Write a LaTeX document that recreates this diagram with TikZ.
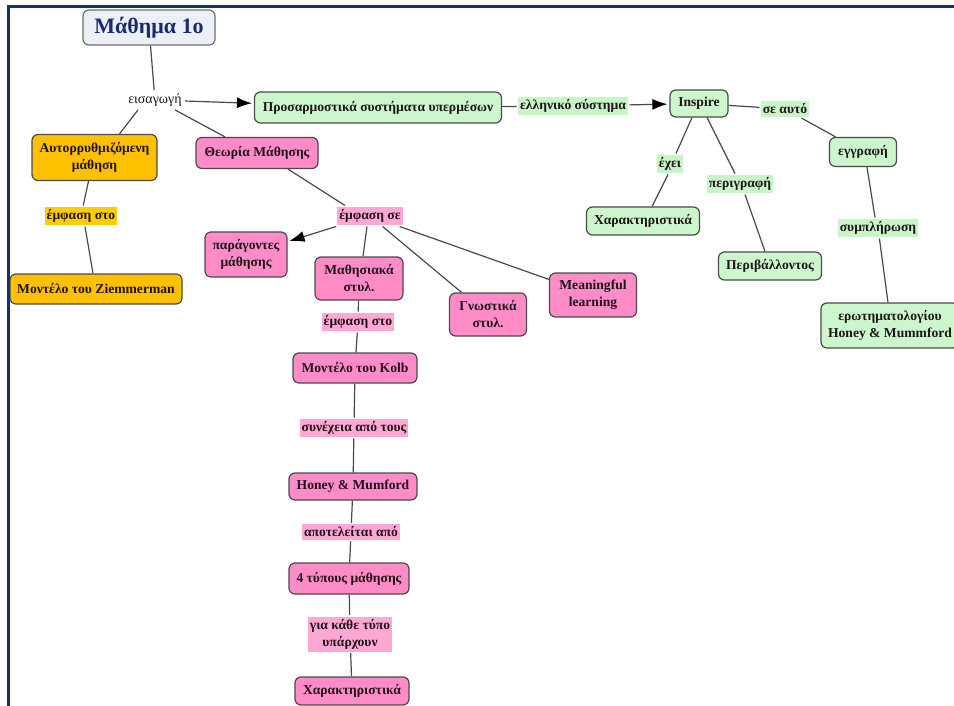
\documentclass[tikz,border=0pt]{standalone}
\usepackage{fontspec}
\setmainfont{Liberation Serif}
\usetikzlibrary{arrows.meta}

\definecolor{frameblue}{HTML}{14306E}
\definecolor{titletext}{HTML}{1B2A70}
\definecolor{titlefill}{HTML}{EAF0F6}
\definecolor{boxline}{HTML}{4A4A4A}
\definecolor{linkgrey}{HTML}{4A4A4A}
\definecolor{txt}{HTML}{1E1418}
\definecolor{pinkfill}{HTML}{FF8CC6}
\definecolor{pinklabel}{HTML}{FFA8D4}
\definecolor{greenfill}{HTML}{CCF7CC}
\definecolor{greenlabel}{HTML}{C8F4C8}
\definecolor{orangefill}{HTML}{FFC000}
\definecolor{yellowlabel}{HTML}{FFCC00}

\begin{document}
\begin{tikzpicture}[x=1pt, y=-1pt,
  every node/.style={font=\fontsize{13.6}{17}\selectfont\bfseries, text=txt, align=center},
  box/.style={draw=boxline, line width=1.2pt, rounded corners=6pt, inner sep=0pt},
  dims/.style 2 args={minimum width=#1, minimum height=#2},
  pinkbox/.style={box, fill=pinkfill},
  greenbox/.style={box, fill=greenfill},
  orangebox/.style={box, fill=orangefill},
  titlebox/.style={box, fill=titlefill, draw=boxline!80, font=\fontsize{22}{26}\selectfont\bfseries, text=titletext},
  lbl/.style={inner xsep=2pt, inner ysep=2.5pt, outer sep=1.5pt},
  pinklbl/.style={lbl, fill=pinklabel},
  greenlbl/.style={lbl, fill=greenlabel},
  yellowlbl/.style={lbl, fill=yellowlabel},
  plainlbl/.style={font=\fontsize{14}{17}\selectfont, inner sep=1.5pt, outer sep=2pt},
  link/.style={draw=linkgrey, line width=1.2pt},
  arrowlink/.style={link, -{Latex[length=15pt,width=11pt,color=black]}, shorten >=2pt},
]
\useasboundingbox (0,0) rectangle (954,706);
\fill[white] (0,0) rectangle (954,706);
\draw[frameblue, line width=3pt] (8.5,706) -- (8.5,6.5) -- (954,6.5);

\begin{scope}
\clip (10,8) rectangle (954,706);

% concept boxes
\node[titlebox, dims={132pt}{35pt}] (title) at (149,27.5) {Μάθημα 1ο};
\node[plainlbl] (intro) at (155,100) {εισαγωγή};

\node[orangebox, dims={125pt}{46pt}] (self) at (94.5,157.5) {Αυτορρυθμιζόμενη\\μάθηση};
\node[yellowlbl] (emphA) at (81,216) {έμφαση στο};
\node[orangebox, dims={172pt}{30pt}] (ziem) at (96,289) {Μοντέλο του Ziemmerman};

\node[pinkbox, dims={122pt}{31pt}] (theory) at (257,153) {Θεωρία Μάθησης};
\node[pinklbl] (emphse) at (370,216) {έμφαση σε};
\node[pinkbox, dims={82pt}{45pt}] (factors) at (246,254.5) {παράγοντες\\μάθησης};
\node[pinkbox, dims={88pt}{43pt}] (styles) at (359,278.5) {Μαθησιακά\\στυλ.};
\node[pinkbox, dims={77pt}{43pt}] (cogn) at (488,314.5) {Γνωστικά\\στυλ.};
\node[pinkbox, dims={87pt}{44pt}] (meaning) at (593,295) {Meaningful\\learning};

\node[pinklbl] (emphsto) at (358,322) {έμφαση στο};
\node[pinkbox, dims={124pt}{30pt}] (kolb) at (355,368) {Μοντέλο του Kolb};
\node[pinklbl] (cont) at (354,428) {συνέχεια από τους};
\node[pinkbox, dims={128pt}{27pt}] (honey) at (353,486.5) {Honey \& Mumford};
\node[pinklbl] (consist) at (351,532) {αποτελείται από};
\node[pinkbox, dims={120pt}{31pt}] (four) at (349,578.5) {4 τύπους μάθησης};
\node[pinklbl] (each) at (350,634) {για κάθε τύπο\\υπάρχουν};
\node[pinkbox, dims={114pt}{28pt}] (charP) at (352,691) {Χαρακτηριστικά};

\node[greenbox, dims={247pt}{31pt}] (adapt) at (378,107.5) {Προσαρμοστικά συστήματα υπερμέσων};
\node[greenlbl] (greek) at (573,106) {ελληνικό σύστημα};
\node[greenbox, dims={58pt}{27pt}] (inspire) at (699,103.5) {Inspire};
\node[greenlbl] (seauto) at (785,109) {σε αυτό};
\node[greenbox, dims={67pt}{29pt}] (egg) at (863,152) {εγγραφή};
\node[greenlbl] (symp) at (878,228) {συμπλήρωση};
\node[greenbox, dims={138pt}{45pt}] (quest) at (890,325.5) {ερωτηματολογίου\\Honey \& Mummford};
\node[greenlbl] (exei) at (670,164) {έχει};
\node[greenbox, dims={113pt}{28pt}] (charG) at (643,221) {Χαρακτηριστικά};
\node[greenlbl] (perig) at (740,184) {περιγραφή};
\node[greenbox, dims={103pt}{28pt}] (envir) at (770,266) {Περιβάλλοντος};

% connectors
\draw[link] (title) -- (intro);
\draw[arrowlink] (intro) -- (adapt);
\draw[link] ([xshift=-17pt]intro.south) -- ([xshift=25pt]self.north);
\draw[link] ([xshift=20pt]intro.south) -- ([xshift=-32pt]theory.north);
\draw[link] ([xshift=-6pt]self.south) -- (emphA);
\draw[link] ([xshift=4pt]emphA.south) -- ([xshift=-3pt]ziem.north);

\draw[link] ([xshift=31pt]theory.south) -- ([xshift=-25pt]emphse.north);
\draw[arrowlink] (emphse) -- (factors);
\draw[link] ([xshift=-3pt]emphse.south) -- ([xshift=4pt]styles.north);
\draw[link] (emphse) -- (cogn);
\draw[link] (emphse) -- (meaning);
\draw[link] (styles) -- (emphsto);
\draw[link] (emphsto) -- (kolb);
\draw[link] (kolb) -- (cont);
\draw[link] (cont) -- (honey);
\draw[link] (honey) -- (consist);
\draw[link] (consist) -- (four);
\draw[link] (four) -- (each);
\draw[link] (each) -- (charP);

\draw[link] (adapt) -- (greek);
\draw[arrowlink] (greek) -- (inspire);
\draw[link] (inspire) -- (seauto);
\draw[link] (seauto) -- (egg);
\draw[link] ([xshift=4pt]egg.south) -- ([xshift=-3pt]symp.north);
\draw[link] (symp) -- ([xshift=-2pt]quest.north);
\draw[link] ([xshift=-7pt]inspire.south) -- ([xshift=6pt]exei.north);
\draw[link] ([xshift=-2pt]exei.south) -- ([xshift=9pt]charG.north);
\draw[link] ([xshift=8pt]inspire.south) -- ([xshift=-5pt]perig.north);
\draw[link] ([xshift=5pt]perig.south) -- ([xshift=-5pt]envir.north);
\end{scope}
\end{tikzpicture}
\end{document}
